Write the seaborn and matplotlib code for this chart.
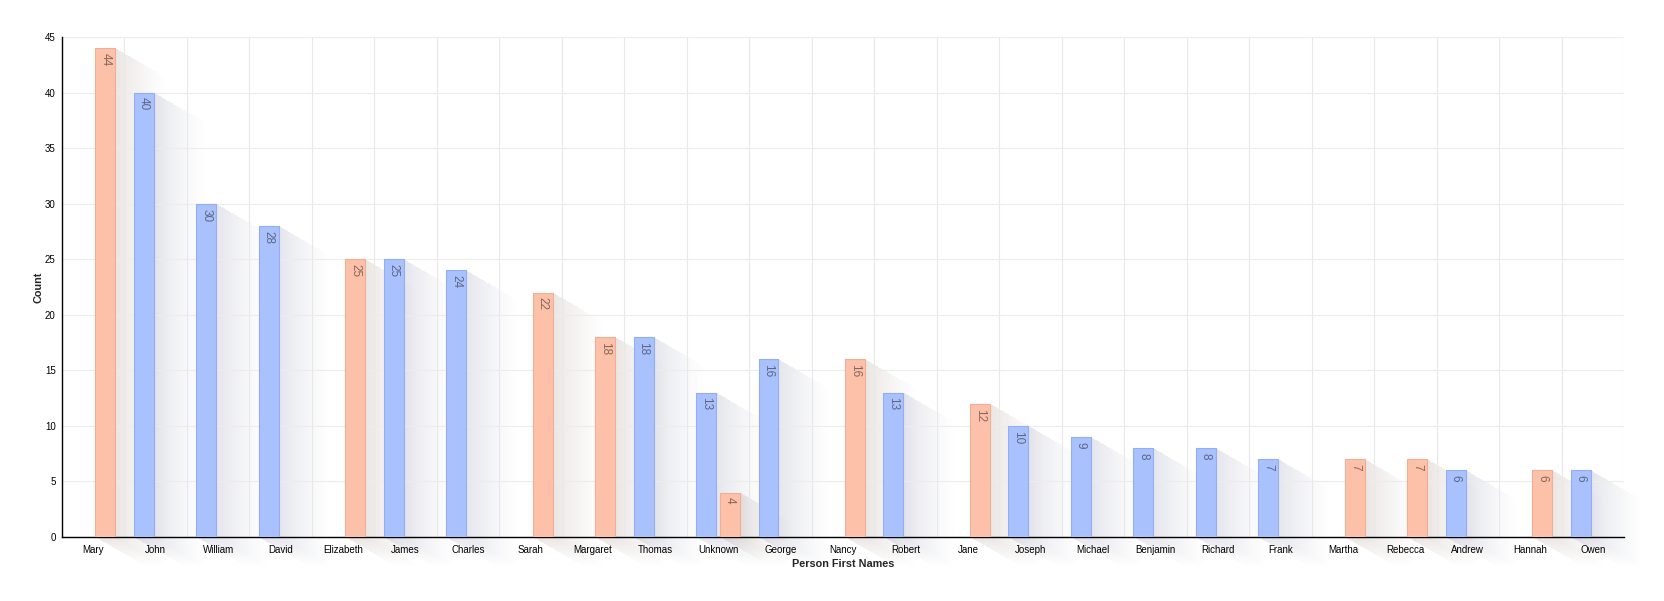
import numpy as np
import pandas as pd
import matplotlib
matplotlib.use("Agg")
import matplotlib.pyplot as plt
import seaborn as sns

# first names, gender and how often each appears
names = ["Mary", "John", "William", "David", "Elizabeth", "James", "Charles", "Sarah",
         "Margaret", "Thomas", "Unknown", "Unknown", "George", "Nancy", "Robert", "Jane",
         "Joseph", "Michael", "Benjamin", "Richard", "Frank", "Martha", "Rebecca",
         "Andrew", "Hannah", "Owen"]
genders = ["Female", "Male", "Male", "Male", "Female", "Male", "Male", "Female",
           "Female", "Male", "Male", "Female", "Male", "Female", "Male", "Female",
           "Male", "Male", "Male", "Male", "Male", "Female", "Female",
           "Male", "Female", "Male"]
counts = [44, 40, 30, 28, 25, 25, 24, 22, 18, 18, 13, 4, 16, 16, 13, 12,
          10, 9, 8, 8, 7, 7, 7, 6, 6, 6]

order = list(dict.fromkeys(names))
hue_order = ["Male", "Female"]
palette = {"Male": "#a9c1fc", "Female": "#fdc0a8"}
edges = {"Male": "#95aef2", "Female": "#efae96"}
label_col = {"Male": "#4a5066", "Female": "#6a5048"}
shadow_rgb = {"Male": (0.36, 0.38, 0.55), "Female": (0.50, 0.38, 0.32)}

df = pd.DataFrame({"name": names, "gender": genders, "count": counts})

W, H = 1665, 601
sns.set_style("white")
plt.rcParams["font.family"] = ["Liberation Sans", "DejaVu Sans"]

fig = plt.figure(figsize=(W / 100, H / 100), dpi=100)
fig.patch.set_facecolor("white")
sax = fig.add_axes([0, 0, 1, 1], zorder=0)
ax = fig.add_axes([62 / W, 1 - 537 / H, (1624 - 62) / W, 500 / H], zorder=1)
ax.patch.set_alpha(0)

sns.barplot(data=df, x="name", y="count", hue="gender", order=order,
            hue_order=hue_order, palette=palette, width=0.77, gap=0.17,
            saturation=1, errorbar=None, legend=False, ax=ax, zorder=3)

ax.set_xlim(-0.5, len(order) - 0.5)
ax.set_ylim(0, 45)
ax.set_yticks(range(0, 46, 5))
ax.set_xticks(np.arange(len(order)) + 0.5, minor=True)
ax.grid(True, which="minor", axis="x", color="#e8e8e8", lw=0.8, zorder=0)
ax.grid(True, which="major", axis="y", color="#ececec", lw=0.8, zorder=0)
ax.tick_params(axis="both", which="both", length=0, labelsize=7, colors="black")
ax.tick_params(axis="x", pad=5.5)
ax.tick_params(axis="y", pad=4.5)
for side in ["top", "right"]:
    ax.spines[side].set_visible(False)
for side in ["left", "bottom"]:
    ax.spines[side].set_color("black")
    ax.spines[side].set_linewidth(1.0)
ax.set_xlabel("Person First Names", fontsize=7.8, fontweight="bold", labelpad=3)
ax.set_ylabel("Count", fontsize=7.8, fontweight="bold", labelpad=1)

# colour the edges and write the values down the inside of each bar
bars = []
for container, g in zip(ax.containers, hue_order):
    for bar in container:
        if bar.get_height() <= 0:
            continue
        bar.set_edgecolor(edges[g])
        bar.set_linewidth(0.8)
        bars.append((bar, g))
        ax.annotate(str(int(bar.get_height())),
                    (bar.get_x() + bar.get_width() / 2, bar.get_height()),
                    xytext=(0, -3.5), textcoords="offset points",
                    rotation=270, ha="center", va="top",
                    fontsize=8.5, color=label_col[g], alpha=0.8, zorder=4)

# long diagonal shadow behind each bar
sax.axis("off")
theta = np.deg2rad(30)
c, s = np.cos(theta), np.sin(theta)
L = 62.0
a0 = 0.16
for bar, g in bars:
    (px0, py0) = ax.transData.transform((bar.get_x(), 0))
    (px1, py1) = ax.transData.transform((bar.get_x() + bar.get_width(), bar.get_height()))
    xs = np.arange(np.floor(px0), np.ceil(px1 + L * c) + 1) + 0.5
    ys = np.arange(np.floor(py0 - L * s), np.ceil(py1) + 1) + 0.5
    X, Y = np.meshgrid(xs, ys)
    smin = np.maximum(0, np.maximum((X - px1) / c, (py0 - Y) / s))
    smax = np.minimum((X - px0) / c, (py1 - Y) / s)
    ok = (smin <= smax) & (smin <= L)
    alpha = np.where(ok, a0 * (1 - smin / L) ** 1.3, 0)
    img = np.zeros(X.shape + (4,))
    img[..., :3] = shadow_rgb[g]
    img[..., 3] = alpha
    sax.imshow(img, extent=[xs[0] - 0.5, xs[-1] + 0.5, ys[0] - 0.5, ys[-1] + 0.5],
               origin="lower", aspect="auto", interpolation="bilinear")
sax.set_xlim(0, W)
sax.set_ylim(0, H)

fig.savefig("out.png", dpi=100, facecolor="white")
